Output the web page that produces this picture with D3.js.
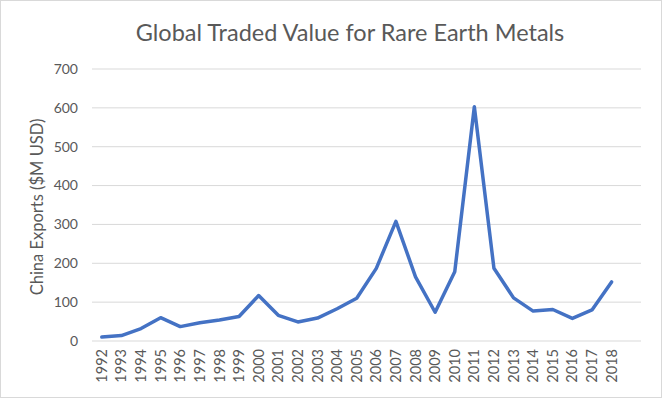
<!DOCTYPE html>
<html><head><meta charset="utf-8">
<script src="https://cdn.jsdelivr.net/npm/d3@7"></script>
<style>body{margin:0;background:#fff}svg{display:block}text{font-family:Lato,"Open Sans",sans-serif;fill:#595959}</style>
</head><body>
<script>
const years = ["1992","1993","1994","1995","1996","1997","1998","1999","2000","2001","2002","2003","2004","2005","2006","2007","2008","2009","2010","2011","2012","2013","2014","2015","2016","2017","2018"];
const values = [10,14,32,60,37,47,54,63,117,66,49,59,83,110,187,308,165,74,178,603,187,111,77,81,58,80,152];
const yTicks = [0,100,200,300,400,500,600,700];
const title = "Global Traded Value for Rare Earth Metals";
const yTitle = "China Exports ($M USD)";

(function(){
const W=662,H=398;
const svg=d3.select("body").append("svg").attr("width",W).attr("height",H);
svg.append("rect").attr("x",0.5).attr("y",0.5).attr("width",W-1).attr("height",H-1).attr("fill","#fff").attr("stroke","#d9d9d9");
const pL=92,pR=641,pT=69,pB=341;
// Excel-style category axis with one trailing empty slot
const domain = years.concat([""]);
const x=d3.scaleBand().domain(domain).range([pL,pR]);
const y=d3.scaleLinear().domain([0,700]).range([pB,pT]);

svg.append("g").selectAll("line").data(yTicks).join("line")
 .attr("x1",pL).attr("x2",pR).attr("y1",d=>y(d)).attr("y2",d=>y(d))
 .attr("stroke","#d9d9d9").attr("stroke-width",1);
svg.append("g").selectAll("text").data(yTicks).join("text")
 .attr("x",78).attr("y",d=>y(d)).attr("dy","0.35em").attr("text-anchor","end")
 .attr("font-size",14).text(d=>d);
svg.append("g").selectAll("text").data(years).join("text")
 .attr("transform",d=>`translate(${x(d)+x.bandwidth()/2},349) rotate(-90)`)
 .attr("dy","0.35em").attr("text-anchor","end").attr("font-size",14.5).text(d=>d);
svg.append("text").attr("x",350).attr("y",41).attr("text-anchor","middle").attr("font-size",23.5).text(title);
svg.append("text").attr("transform","translate(37,207) rotate(-90)").attr("dy","0.35em").attr("text-anchor","middle").attr("font-size",16.5).text(yTitle);

const line=d3.line().x((d,i)=>x(years[i])+x.bandwidth()/2).y(d=>y(d));
svg.append("path").datum(values).attr("d",line).attr("fill","none").attr("stroke","#4472C4").attr("stroke-width",3.5).attr("stroke-linejoin","round").attr("stroke-linecap","round");
})();
</script>
</body></html>
